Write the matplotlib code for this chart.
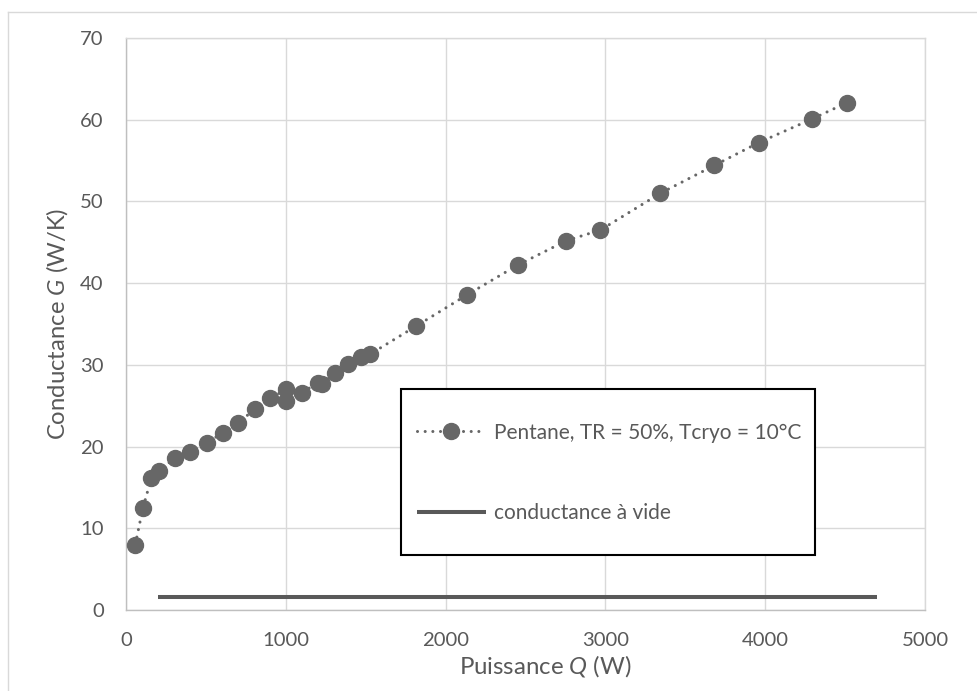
"""Conductance G en fonction de la puissance Q"""
import matplotlib
matplotlib.use('Agg')
import matplotlib.pyplot as plt
from matplotlib.patches import Rectangle
from matplotlib.lines import Line2D

plt.rcParams['font.family'] = ['Lato', 'DejaVu Sans']
plt.rcParams['mathtext.fontset'] = 'custom'
plt.rcParams['mathtext.it'] = 'Lato:italic'
plt.rcParams['mathtext.rm'] = 'Lato'

# Donnees
puissance = [58, 106, 158, 208, 304, 402, 504, 604, 704, 806, 904, 1000, 1000,
             1100, 1200, 1225, 1308, 1391, 1470, 1527, 1812, 2137, 2450, 2756,
             2969, 3344, 3681, 3960, 4294, 4513]
conductance = [8.0, 12.5, 16.1, 17.0, 18.6, 19.3, 20.4, 21.7, 22.9, 24.6, 25.9,
               27.0, 25.6, 26.6, 27.8, 27.6, 29.0, 30.1, 31.0, 31.3, 34.7, 38.6,
               42.2, 45.2, 46.5, 51.0, 54.4, 57.2, 60.1, 62.1]

# conductance a vide (ligne horizontale)
vide_x = [200, 4700]
vide_y = [1.6, 1.6]

xticks = [0, 1000, 2000, 3000, 4000, 5000]
yticks = [0, 10, 20, 30, 40, 50, 60, 70]

GRIS_TEXTE = '#595959'
GRIS_POINT = '#676767'

fig = plt.figure(figsize=(9.78, 6.91), dpi=100)
ax = fig.add_axes([126 / 978, 1 - 610 / 691, 799 / 978, 572 / 691])

ax.plot(puissance, conductance, color=GRIS_POINT, linestyle=(0, (0.01, 2.5)),
        linewidth=2.2, dash_capstyle='round', marker='o', markersize=11.5,
        markeredgecolor=GRIS_POINT, zorder=3,
        label='Pentane, TR = 50%, Tcryo = 10°C')
ax.plot(vide_x, vide_y, color=GRIS_TEXTE, linewidth=2.9,
        solid_capstyle='butt', zorder=3, label='conductance à vide')

ax.set_xlim(0, 5000)
ax.set_ylim(0, 70)
ax.set_xticks(xticks)
ax.set_yticks(yticks)
ax.grid(True, color='#d9d9d9', linewidth=1.0, zorder=0)
ax.set_axisbelow(True)
ax.tick_params(length=0, pad=16, labelsize=14.6, colors=GRIS_TEXTE)

for side in ['top', 'right']:
    ax.spines[side].set_color('#d9d9d9')
for side in ['left', 'bottom']:
    ax.spines[side].set_color('#bfbfbf')
for sp in ax.spines.values():
    sp.set_linewidth(1.0)

# titres des axes, places en pixels
titre_x = fig.text(545.8 / 978, 1 - 666 / 691, r'Puissance $Q$ (W)', fontsize=15.5,
                   color=GRIS_TEXTE, ha='center', va='center')
titre_y = fig.text(57 / 978, 1 - 324 / 691, r'Conductance $G$ (W/K)', fontsize=15.5,
                   color=GRIS_TEXTE, ha='center', va='center', rotation=90)

# ajuster la taille pour retrouver la longueur du texte d'origine
fig.canvas.draw()
rend = fig.canvas.get_renderer()
bb = titre_x.get_window_extent(rend)
titre_x.set_fontsize(15.5 * 173 / bb.width)
bb = titre_y.get_window_extent(rend)
titre_y.set_fontsize(15.5 * 232 / bb.height)

# cadre de la legende
cadre = Rectangle(((401 - 126) / 799, (610 - 555) / 572), 414 / 799, 166 / 572,
                  transform=ax.transAxes, facecolor='white', edgecolor='black',
                  linewidth=1.5, zorder=4)
ax.add_patch(cadre)

leg = ax.legend(loc='center left', bbox_to_anchor=((417 - 126) / 799, (610 - 473) / 572),
                frameon=False, fontsize=15, labelcolor=GRIS_TEXTE, numpoints=1,
                handlelength=3.3, handletextpad=0.4, borderpad=0, borderaxespad=0,
                labelspacing=2.9)
leg.set_zorder(5)

# bordure de la zone du graphique
fig.add_artist(Line2D([8 / 978, 1], [1 - 11.5 / 691] * 2, color='#d9d9d9', lw=1))
fig.add_artist(Line2D([8 / 978] * 2, [0, 1 - 11.5 / 691], color='#d9d9d9', lw=1))

plt.savefig('out.png', dpi=100)
